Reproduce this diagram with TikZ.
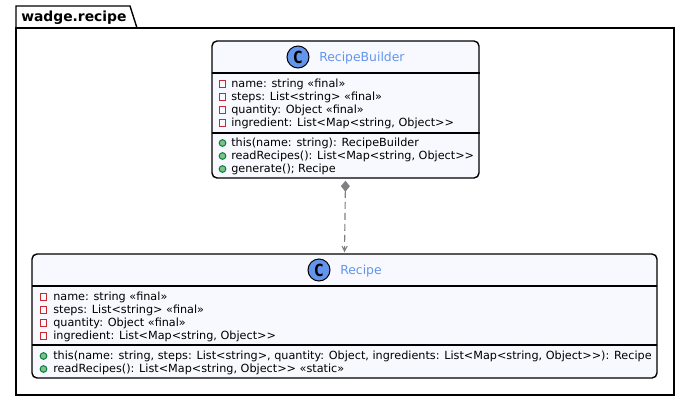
\documentclass[tikz,border=0pt]{standalone}
\usepackage{fontspec}
\usepackage{tikz}
\usetikzlibrary{arrows.meta}
\newfontfamily\umlfont{DejaVu Sans}
\newfontfamily\umlmono{DejaVu Sans Mono}
\definecolor{classbg}{HTML}{F8F9FF}
\definecolor{classtitle}{HTML}{6495ED}
\definecolor{privred}{HTML}{C82930}
\definecolor{pubgreen}{HTML}{038048}
\definecolor{pubfill}{HTML}{84BE84}
\definecolor{linkgray}{HTML}{808080}

\begin{document}
\begin{tikzpicture}[
  x=0.75pt,
  y=-0.75pt,
  pack/.style={draw=black,line width=1.05pt},
  packlab/.style={font=\umlfont\fontsize{10.4}{12}\selectfont\bfseries,anchor=base west,inner sep=0pt},
  classbox/.style={draw=black,line width=1.05pt,fill=classbg,rounded corners=3.75pt,inner sep=0pt},
  sep/.style={draw=black,line width=0.95pt},
  spot/.style={circle,draw=black,line width=0.75pt,fill=classtitle,minimum size=16.5pt,inner sep=0pt,font=\umlmono\fontsize{12.5}{14}\selectfont\bfseries},
  title/.style={font=\umlfont\fontsize{9.3}{11}\selectfont,text=classtitle,anchor=base west,inner sep=0pt},
  member/.style={font=\umlfont\fontsize{8.42}{10}\selectfont,anchor=base west,inner sep=0pt},
  priv/.style={rectangle,draw=privred,line width=0.8pt,minimum size=4.6pt,inner sep=0pt},
  publ/.style={circle,draw=pubgreen,line width=0.75pt,fill=pubfill,minimum size=5pt,inner sep=0pt},
  link/.style={draw=linkgray,line width=0.85pt,dash pattern=on 5.25pt off 3pt,
    {Diamond[length=8.25pt,width=6.75pt,fill=linkgray]}-{Stealth[length=8pt,width=8pt,inset=5.6pt,fill=linkgray]},
    shorten <=1.5pt,shorten >=0.75pt}
]
\useasboundingbox (0,0) rectangle (690,401);

% package
\draw[pack] (16,28) -- (16,6) -- (130,6) -- (137,28);
\draw[pack] (16,28) rectangle (674,395);
\node[packlab] (packname) at (21,21) {wadge.recipe};

% classes
\node[classbox,minimum width=200.25pt,minimum height=102.75pt] (builder) at (345.5,109.5) {};
\node[classbox,minimum width=468.75pt,minimum height=93pt] (recipe) at (344.5,316) {};
\draw[link] (builder.south) -- (recipe.north);

\draw[sep] (211.5,73) -- (479.5,73);
\draw[sep] (211.5,133) -- (479.5,133);
\draw[sep] (32,286) -- (657,286);
\draw[sep] (32,345) -- (657,345);

\node[spot] (builderspot) at (298,57) {C};
\node[title] (buildertitle) at (319,61.5) {RecipeBuilder};
\node[spot] (recipespot) at (319,270) {C};
\node[title] (recipetitle) at (340,274.5) {Recipe};

% members of the builder
\foreach \i/\y/\txt in {
  1/83/{name: string «final»},
  2/96/{steps: List<string> «final»},
  3/109/{quantity: Object «final»},
  4/122/{ingredient: List<Map<string, Object>>}} {
  \node[priv] (builderdot\i) at (222.5,\y+1) {};
  \node[member] (builderattr\i) at (231,\y+4) {\txt};
}
\foreach \i/\y/\txt in {
  1/142/{this(name: string): RecipeBuilder},
  2/155/{readRecipes(): List<Map<string, Object>>},
  3/168/{generate(); Recipe}} {
  \node[publ] (builderpub\i) at (222.5,\y+1) {};
  \node[member] (buildermeth\i) at (231,\y+4) {\txt};
}

% members of the recipe
\foreach \i/\y/\txt in {
  1/296/{name: string «final»},
  2/309/{steps: List<string> «final»},
  3/322/{quantity: Object «final»},
  4/335/{ingredient: List<Map<string, Object>>}} {
  \node[priv] (recipedot\i) at (43.5,\y+1) {};
  \node[member] (recipeattr\i) at (53,\y+4) {\txt};
}
\foreach \i/\y/\txt in {
  1/355/{this(name: string, steps: List<string>, quantity: Object, ingredients: List<Map<string, Object>>): Recipe},
  2/368/{readRecipes(): List<Map<string, Object>> «static»}} {
  \node[publ] (recipepub\i) at (43.5,\y+1) {};
  \node[member] (recipemeth\i) at (53,\y+4) {\txt};
}
\end{tikzpicture}
\end{document}
